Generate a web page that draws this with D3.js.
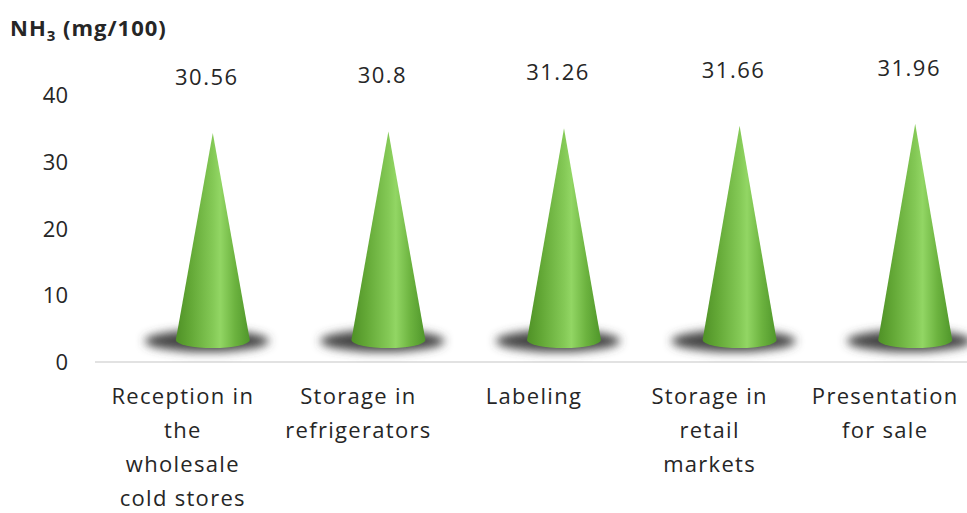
<!DOCTYPE html>
<html>
<head>
<meta charset="utf-8">
<script src="https://cdn.jsdelivr.net/npm/d3@7"></script>
<style>
  body { margin: 0; background: #fff; }
  svg { display: block; font-family: "Open Sans", "Noto Sans", sans-serif; }
  .tick text { fill: #262626; font-size: 22px; font-family: "Open Sans", sans-serif; }
  .value { fill: #262626; font-size: 22px; }
  .cat { fill: #262626; font-size: 22px; }
</style>
</head>
<body>
<div id="chart"></div>
<script>
const categories = [
  ['Reception in', 'the', 'wholesale', 'cold stores'],
  ['Storage in', 'refrigerators'],
  ['Labeling'],
  ['Storage in', 'retail', 'markets'],
  ['Presentation', 'for sale']
];
const values = [30.56, 30.8, 31.26, 31.66, 31.96];
const yTicks = [0, 10, 20, 30, 40];

const width = 967;
const height = 513;
// 3D depth shift of the cones relative to the category axis
const depthX = 30;
const depthY = 23;

const svg = d3.select('#chart')
  .append('svg')
  .attr('width', width)
  .attr('height', height);

const defs = svg.append('defs');

const grad = defs.append('linearGradient')
  .attr('id', 'cone-grad')
  .attr('x1', '0%').attr('x2', '100%')
  .attr('y1', '0%').attr('y2', '0%');
[
  [0, '#4f9126'],
  [0.2, '#63a836'],
  [0.5, '#84c956'],
  [0.6, '#92d664'],
  [0.8, '#6cb33f'],
  [1, '#4f962a']
].forEach(([o, c]) => grad.append('stop').attr('offset', o).attr('stop-color', c));

defs.append('filter')
  .attr('id', 'shadow-blur')
  .attr('x', '-50%').attr('y', '-100%')
  .attr('width', '200%').attr('height', '300%')
  .append('feGaussianBlur')
  .attr('stdDeviation', 5);

const x = d3.scaleBand()
  .domain(d3.range(values.length))
  .range([95, 973]);

const y = d3.scaleLinear()
  .domain([0, 40])
  .range([362, 95]);

// baseline
svg.append('line')
  .attr('x1', 95).attr('x2', width)
  .attr('y1', y(0)).attr('y2', y(0))
  .attr('stroke', '#d9d9d9')
  .attr('stroke-width', 1.5);

// y axis labels
const yAxis = svg.append('g')
  .attr('transform', 'translate(68,0)')
  .call(d3.axisLeft(y).tickValues(yTicks).tickSize(0).tickPadding(0));
yAxis.select('.domain').remove();
yAxis.attr('font-family', null).attr('font-size', null);
yAxis.selectAll('text').attr('dy', '0.35em');

const cones = svg.append('g')
  .selectAll('g')
  .data(values)
  .join('g');

const cx = (d, i) => x(i) + x.bandwidth() / 2 + depthX;
const baseY = y(0) - depthY + 1;
const rx = 37;
const ry = 8;

cones.append('ellipse')
  .attr('cx', (d, i) => cx(d, i) - 6)
  .attr('cy', baseY + 1)
  .attr('rx', 62)
  .attr('ry', 11)
  .attr('fill', '#474747')
  .attr('filter', 'url(#shadow-blur)');

cones.append('path')
  .attr('d', (d, i) => {
    const c = cx(d, i);
    const tip = y(d) - depthY - 2;
    return `M${c - rx},${baseY} L${c},${tip} L${c + rx},${baseY} A${rx},${ry} 0 0 1 ${c - rx},${baseY} Z`;
  })
  .attr('fill', 'url(#cone-grad)');

// value labels
svg.append('g')
  .selectAll('text')
  .data(values)
  .join('text')
  .attr('class', 'value')
  .attr('x', (d, i) => cx(d, i) - 6)
  .attr('y', d => y(d) - 73)
  .attr('text-anchor', 'middle')
  .attr('letter-spacing', 1.5)
  .text(d => d);

// category labels
const catG = svg.append('g')
  .selectAll('text')
  .data(categories)
  .join('text')
  .attr('class', 'cat')
  .attr('text-anchor', 'middle')
  .attr('letter-spacing', 1.3)
  .attr('x', (d, i) => x(i) + x.bandwidth() / 2)
  .attr('y', 404);
catG.selectAll('tspan')
  .data(d => d)
  .join('tspan')
  .attr('x', function () { return d3.select(this.parentNode).attr('x'); })
  .attr('dy', (d, j) => j === 0 ? 0 : 34)
  .text(d => d);

// axis title
const title = svg.append('text')
  .attr('x', 10)
  .attr('y', 36)
  .attr('font-size', 22)
  .attr('font-weight', 'bold')
  .attr('letter-spacing', 1)
  .attr('fill', '#262626');
title.append('tspan').text('NH');
title.append('tspan').attr('font-size', 15).attr('dy', 5).text('3');
title.append('tspan').attr('dy', -5).text(' (mg/100)');
</script>
</body>
</html>
